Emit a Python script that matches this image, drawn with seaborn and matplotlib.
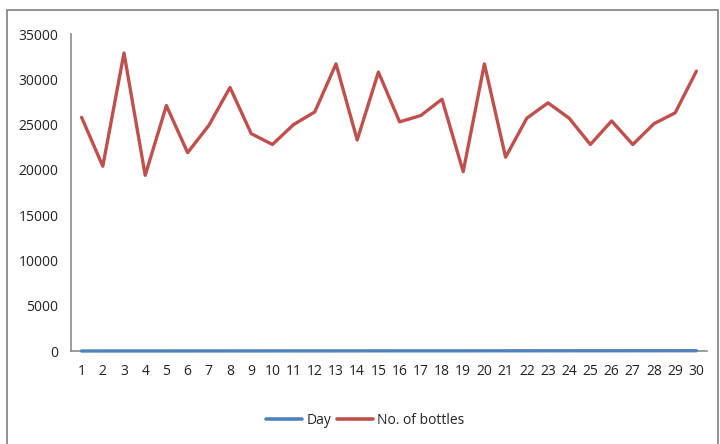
import pandas as pd
import seaborn as sns
import matplotlib.pyplot as plt
from matplotlib.patches import Rectangle

days = list(range(1, 31))
bottles = [25800, 20400, 32900, 19400, 27100, 21900, 24900, 29100, 24000, 22800,
           25000, 26400, 31700, 23300, 30800, 25300, 26000, 27800, 19800, 31700,
           21400, 25700, 27400, 25700, 22800, 25400, 22800, 25100, 26300, 30900]

series_names = ['Day', 'No. of bottles']
colors = ['#4F81BD', '#C0504D']

sns.set_style('white')
plt.rcParams['font.family'] = ['Open Sans', 'DejaVu Sans']

df = pd.concat([
    pd.DataFrame({'x': days, 'value': days, 'series': series_names[0]}),
    pd.DataFrame({'x': days, 'value': bottles, 'series': series_names[1]}),
])

fig = plt.figure(figsize=(7.2, 4.44), dpi=100)
ax = fig.add_axes([71 / 720, 1 - 351 / 444, 636 / 720, 317 / 444])

sns.lineplot(data=df, x='x', y='value', hue='series', palette=colors,
             linewidth=2.4, ax=ax, legend=False, zorder=3)
for ln in ax.lines:
    ln.set_clip_on(False)

ax.set_xlim(0.5, 30.5)
ax.set_ylim(0, 35000)
ax.set_xticks(days)
ax.set_yticks(range(0, 35001, 5000))
ax.set_xlabel('')
ax.set_ylabel('')
ax.tick_params(axis='both', length=0, labelsize=10, colors='#222222')
ax.tick_params(axis='x', pad=9)
ax.tick_params(axis='y', pad=9)
for s in ['top', 'right']:
    ax.spines[s].set_visible(False)
for s in ['left', 'bottom']:
    ax.spines[s].set_color('#8c8c8c')
    ax.spines[s].set_linewidth(1.2)

# legend below the plot
handles = [plt.Line2D([], [], color=c, linewidth=2.6) for c in colors]
fig.legend(handles, series_names, loc='center', bbox_to_anchor=(365 / 720, 1 - 420 / 444),
           ncol=2, frameon=False, fontsize=10, handlelength=2.6, handletextpad=0.3,
           columnspacing=0.4)

# chart frame
fig.patches.append(Rectangle((7 / 720, -0.05), 711 / 720, 1.05 - 10 / 444,
                             transform=fig.transFigure, fill=False,
                             edgecolor='#808080', linewidth=1.2))

fig.savefig('out.png', dpi=100)
